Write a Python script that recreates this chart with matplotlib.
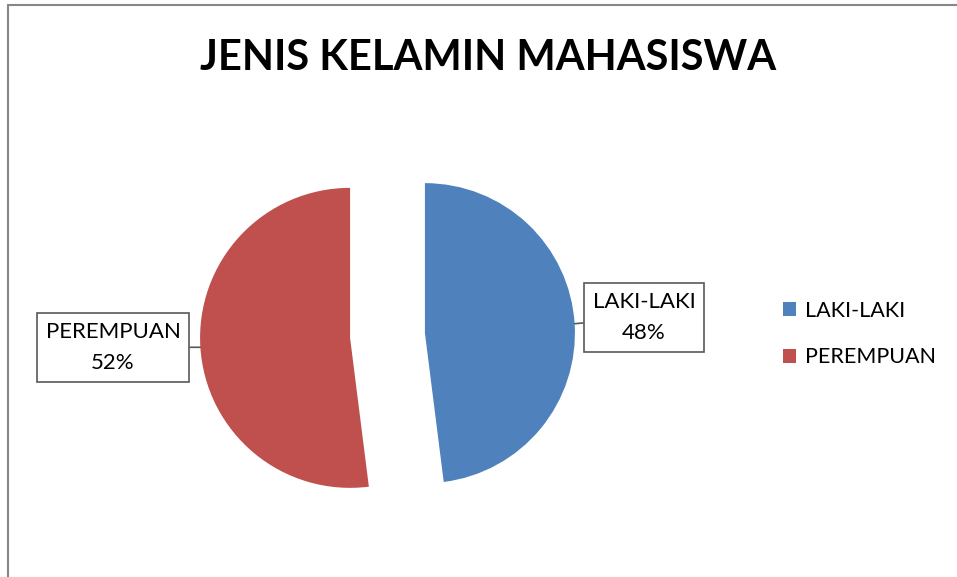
import numpy as np
import matplotlib.pyplot as plt
from matplotlib.patches import Rectangle

# data
labels = ['LAKI-LAKI', 'PEREMPUAN']
values = [48, 52]
colors = ['#4F81BD', '#C0504D']

plt.rcParams['font.family'] = ['Lato', 'DejaVu Sans']


def main():
    W, H = 957, 577
    fig = plt.figure(figsize=(W / 100, H / 100), dpi=100)
    ax = fig.add_axes([0, 0, 1, 1])

    wedges, _ = ax.pie(values, colors=colors, startangle=90, counterclock=False,
                       explode=[0.25, 0.25], radius=1)

    # 1 data unit = 150 px, pie centre at (387.5, 335.5) px from top-left
    cx, cy, r = 387.5, H - 335.5, 150.0
    ax.set_xlim(-cx / r, (W - cx) / r)
    ax.set_ylim(-cy / r, (H - cy) / r)
    ax.set_aspect('auto')
    ax.axis('off')

    # data labels with callout boxes
    text_pos = [(1.71, 0.12), (-1.83, -0.08)]
    total = sum(values)
    start = 90.0
    for i, v in enumerate(values):
        frac = v / total
        mid = np.deg2rad(start - frac * 360 / 2)
        start -= frac * 360
        px = 1.25 * np.cos(mid)
        py = 1.25 * np.sin(mid)
        ax.annotate('%s\n%d%%' % (labels[i], v), xy=(px, py), xytext=text_pos[i],
                    ha='center', va='center', fontsize=16, linespacing=1.65,
                    bbox=dict(boxstyle='square,pad=0.4', fc='white', ec='#595959', lw=1.2),
                    arrowprops=dict(arrowstyle='-', color='#595959', lw=1.2,
                                    shrinkA=0, shrinkB=0))

    fig.text(488 / W, 1 - 58 / H, 'JENIS KELAMIN MAHASISWA', ha='center', va='center',
             fontsize=30, fontweight='bold')

    fig.legend(wedges, labels, loc='center left', bbox_to_anchor=(764 / W, 1 - 334 / H),
               frameon=False, fontsize=15.5, handlelength=0.6, handleheight=0.6,
               handletextpad=0.4, labelspacing=1.25)

    # chart area border (left and top visible)
    fig.patches.append(Rectangle((8 / W, -0.1), 1.2, (H - 5) / H + 0.1, transform=fig.transFigure,
                                 fill=False, ec='#878787', lw=1.5))

    fig.savefig('out.png', dpi=100)


if __name__ == '__main__':
    main()
